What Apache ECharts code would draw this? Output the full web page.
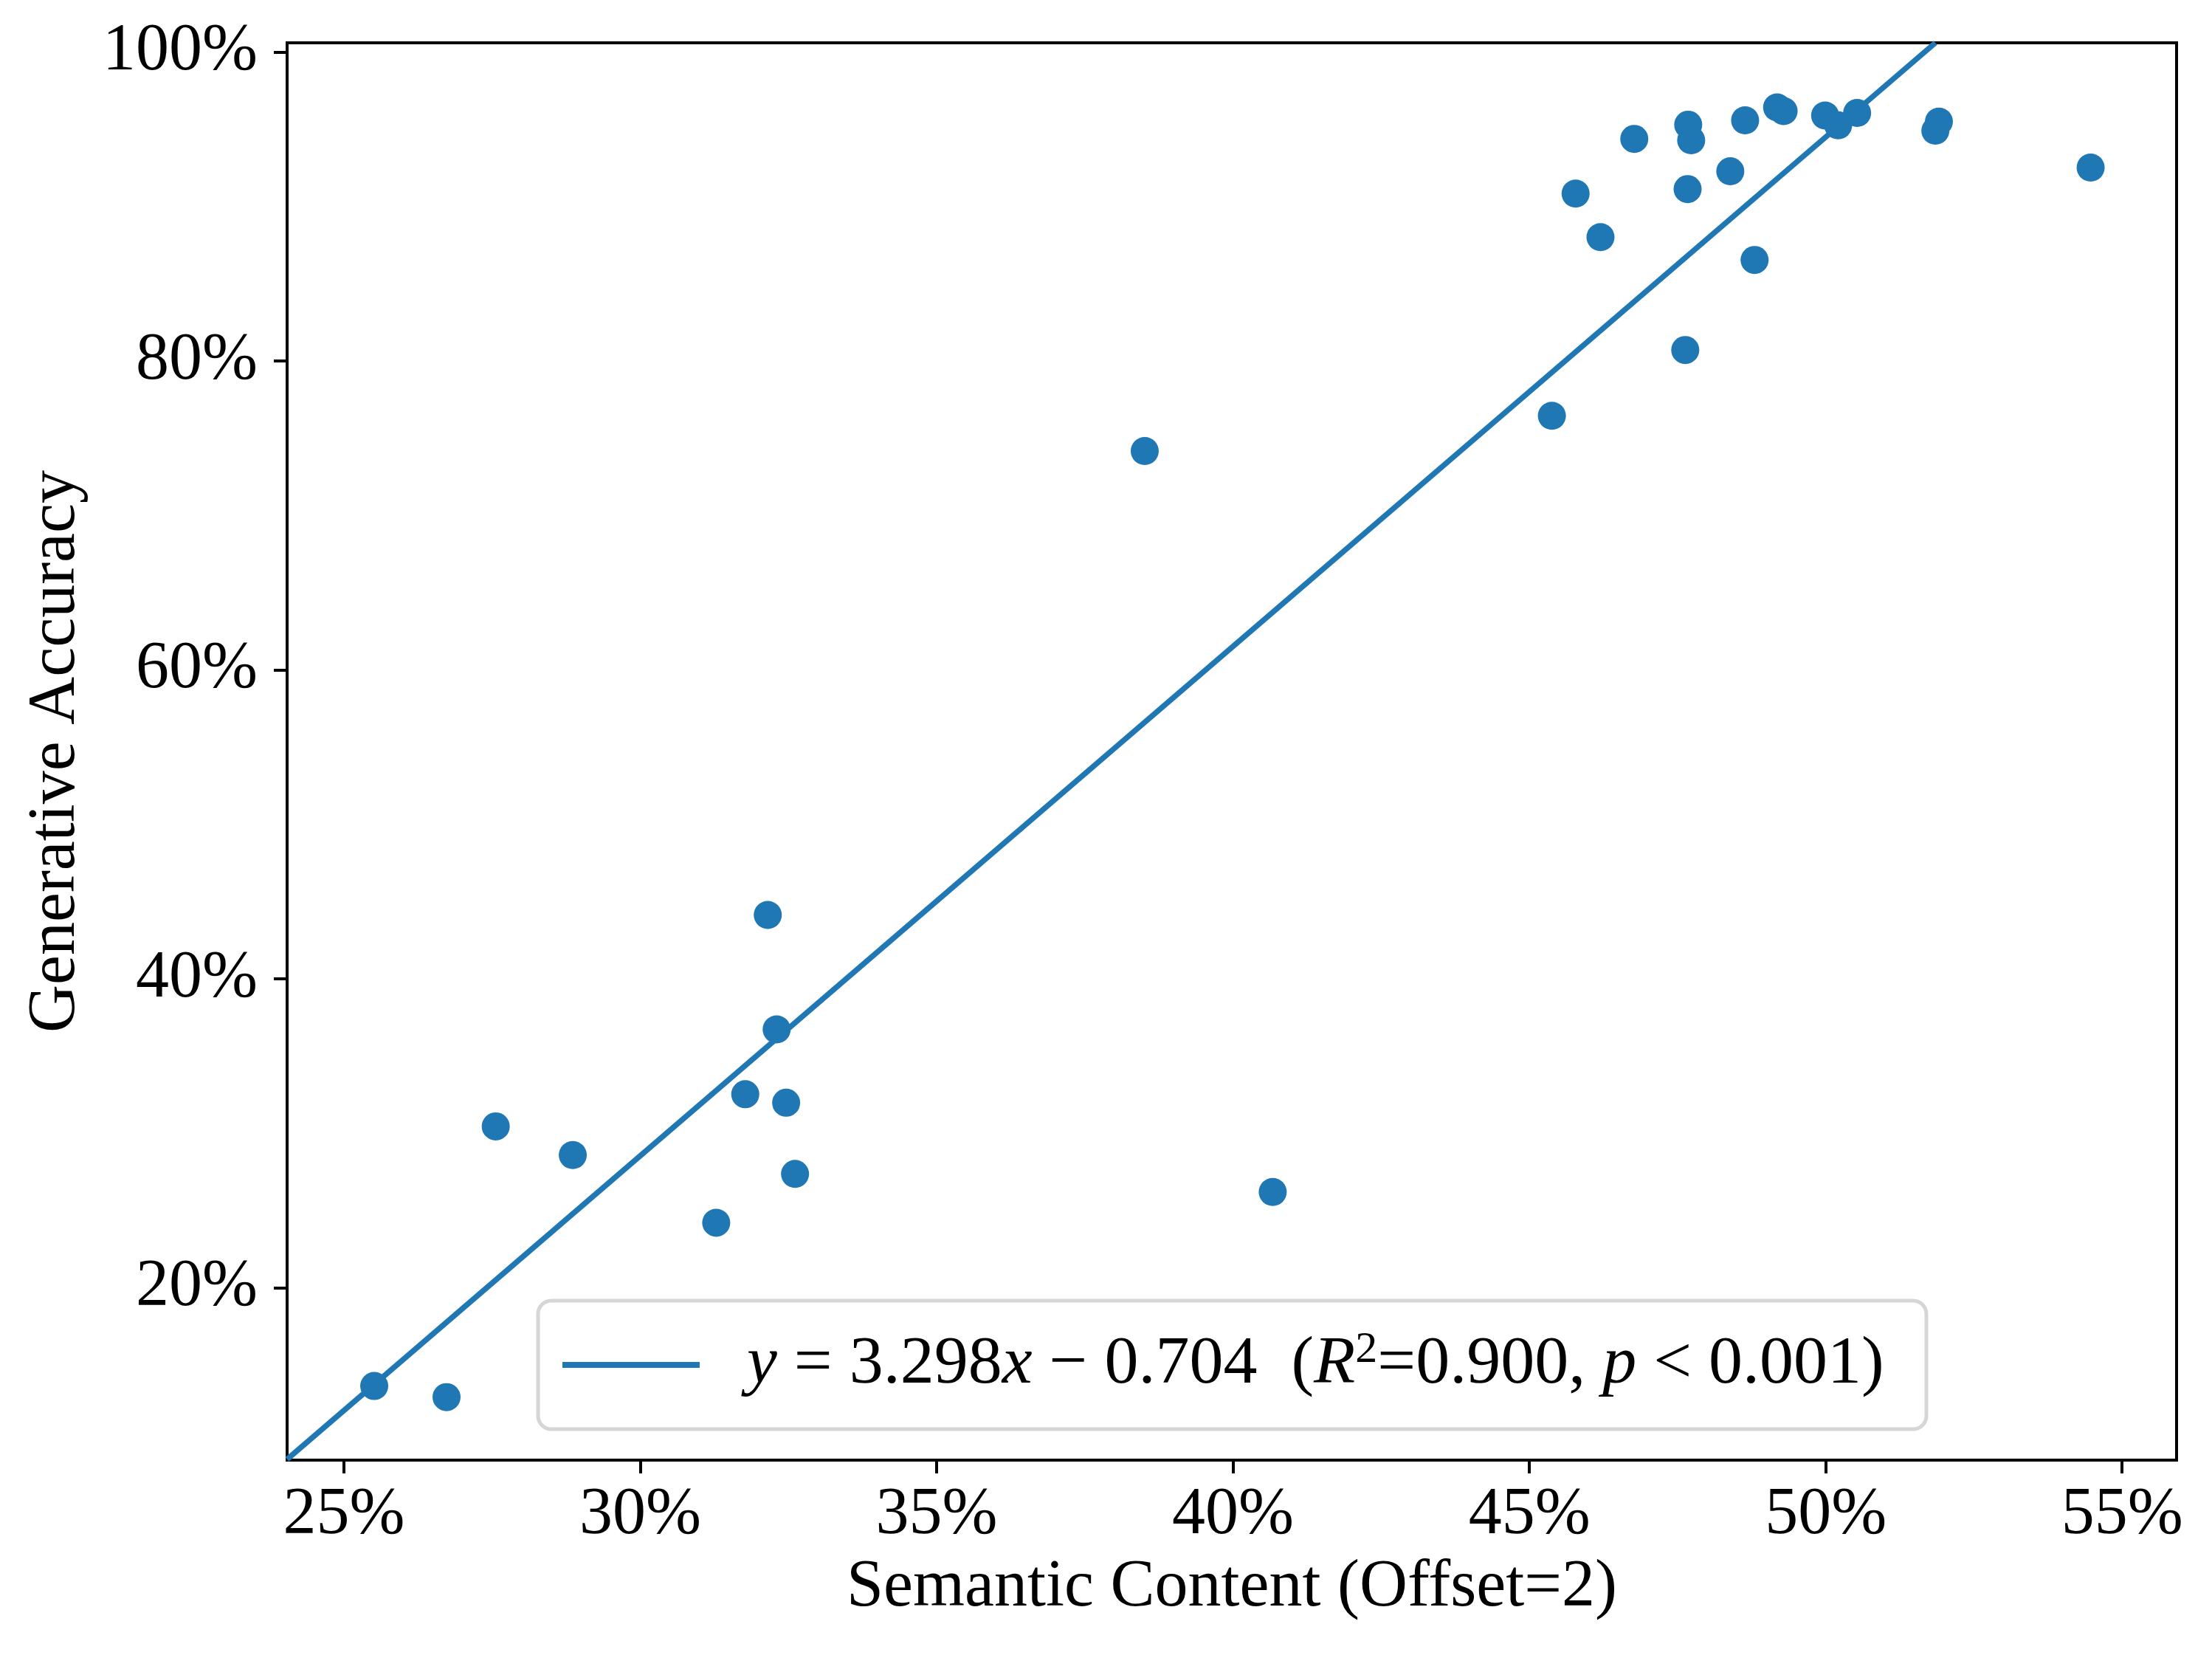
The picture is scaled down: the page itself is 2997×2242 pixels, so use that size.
<!DOCTYPE html>
<html>
<head>
<meta charset="utf-8">
<title>Semantic Content vs Generative Accuracy</title>
<script src="https://cdn.jsdelivr.net/npm/echarts@6/dist/echarts.min.js"></script>
<style>
  html, body { margin: 0; padding: 0; background: #fff; }
  #chart { width: 2997px; height: 2242px; }
</style>
</head>
<body>
<div id="chart"></div>
<script>
(function () {
  // values, in percent
  var semantic = [25.51, 26.73, 27.56, 28.86, 31.28, 31.77, 32.15, 32.30, 32.46, 32.61,
    38.51, 40.67, 45.38, 45.78, 46.20, 46.77, 47.63, 47.67, 47.68, 47.73,
    48.39, 48.64, 48.80, 49.18, 49.29, 49.99, 50.21, 50.53, 51.85, 51.91, 54.47];
  var accuracy = [13.63, 12.91, 30.44, 28.58, 24.20, 32.52, 44.13, 36.72, 31.97, 27.36,
    74.17, 26.19, 76.45, 90.84, 88.02, 94.38, 80.71, 91.13, 95.30, 94.29,
    92.28, 95.58, 86.54, 96.42, 96.18, 95.89, 95.26, 96.06, 94.91, 95.50, 92.52];

  // fitted line: where it enters (left axis) and leaves (top edge) the plot
  var fitX = [24.04, 51.85];
  var fitY = [8.88, 100.6];

  var xTicks = [25, 30, 35, 40, 45, 50, 55];
  var yTicks = [20, 40, 60, 80, 100];
  var xRange = [24.04, 55.92];
  var yRange = [8.83, 100.6];

  var fitName = 'fit';
  var blue = '#1f77b4';
  var serif = '"Liberation Serif", "Times New Roman", serif';

  var points = semantic.map(function (v, i) { return [v, accuracy[i]]; });
  var fitLine = fitX.map(function (v, i) { return [v, fitY[i]]; });

  var chart = echarts.init(document.getElementById('chart'));

  var axisCommon = {
    type: 'value',
    nameLocation: 'middle',
    nameTextStyle: { fontFamily: serif, fontSize: 90, color: '#000' },
    axisLine: { show: true, onZero: false, lineStyle: { color: '#000', width: 4 } },
    splitLine: { show: false },
  };

  var option = {
    animation: false,
    backgroundColor: '#fff',
    grid: {
      left: 389, top: 58, right: 48, bottom: 264,
      show: true, borderColor: '#000', borderWidth: 4,
    },
    xAxis: Object.assign({}, axisCommon, {
      min: xRange[0], max: xRange[1],
      name: 'Semantic Content (Offset=2)',
      nameGap: 128,
      axisTick: { show: true, length: 18, lineStyle: { color: '#000', width: 4 }, customValues: xTicks },
      axisLabel: {
        customValues: xTicks, margin: 30,
        fontFamily: serif, fontSize: 90, color: '#000',
        formatter: function (v) { return v + '%'; },
      },
    }),
    yAxis: Object.assign({}, axisCommon, {
      min: yRange[0], max: yRange[1],
      name: 'Generative Accuracy',
      nameGap: 268,
      axisTick: { show: true, length: 18, lineStyle: { color: '#000', width: 4 }, customValues: yTicks },
      axisLabel: {
        customValues: yTicks, margin: 40,
        fontFamily: serif, fontSize: 90, color: '#000',
        formatter: function (v) { return v + '%'; },
      },
    }),
    legend: {
      left: 729, top: 1762,
      orient: 'horizontal',
      data: [{ name: fitName, icon: 'rect' }],
      itemWidth: 186, itemHeight: 8,
      padding: [37, 35, 37, 33],
      backgroundColor: '#fff',
      borderColor: '#d6d6d6', borderWidth: 5, borderRadius: 18,
      formatter: function () {
        return '{i|y} = 3.298{i|x} \u2212 0.704  ({i|R}{s|2}=0.900, {i|p} < 0.001)';
      },
      textStyle: {
        fontFamily: serif, fontSize: 92, color: '#000', lineHeight: 100,
        width: 1563,
        padding: [0, 0, 0, 59],
        rich: {
          i: { fontFamily: serif, fontSize: 92, fontStyle: 'italic', color: '#000', lineHeight: 100 },
          s: { fontFamily: serif, fontSize: 60, color: '#000', lineHeight: 22, verticalAlign: 'top' },
        },
      },
    },
    series: [
      {
        name: fitName,
        type: 'line',
        data: fitLine,
        showSymbol: false,
        symbol: 'none',
        clip: true,
        lineStyle: { color: blue, width: 7.5 },
        itemStyle: { color: blue },
        z: 2,
      },
      {
        name: 'points',
        type: 'scatter',
        data: points,
        symbol: 'circle',
        symbolSize: 38,
        itemStyle: { color: blue, opacity: 1 },
        z: 3,
      },
    ],
  };

  chart.setOption(option);
})();
</script>
</body>
</html>
